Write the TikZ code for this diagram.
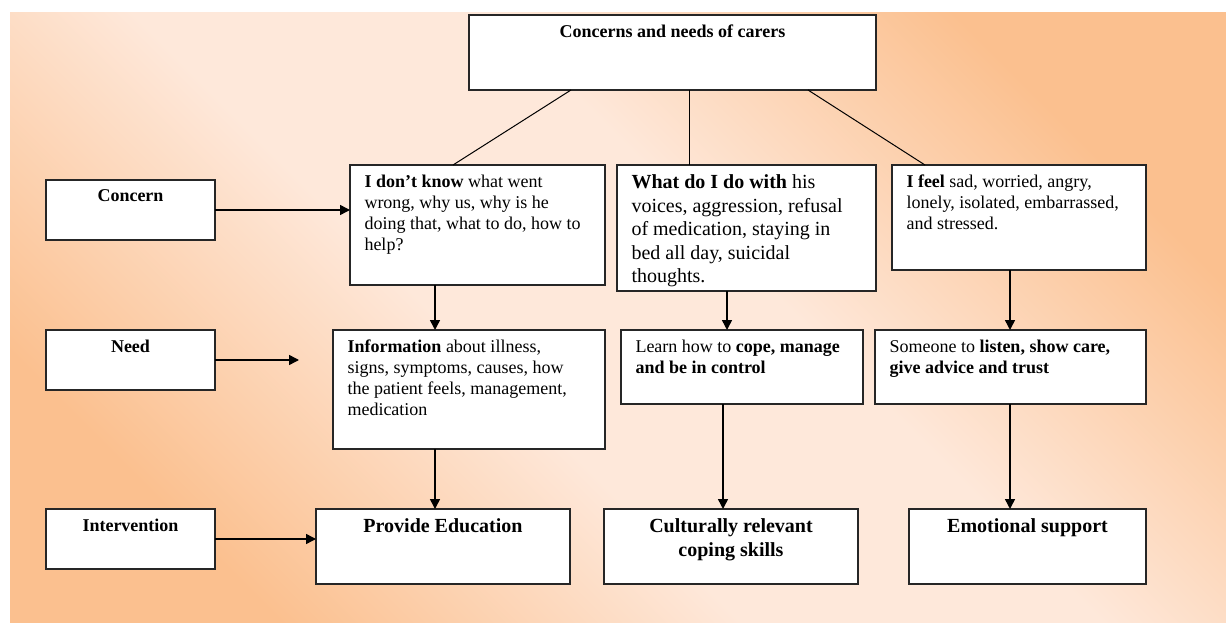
\documentclass[tikz,border=0pt]{standalone}
\usepackage{fontspec}
\setmainfont{Liberation Serif}
\usetikzlibrary{arrows.meta,positioning,calc}

\definecolor{peachdark}{HTML}{FBC08F}
\definecolor{peachlight}{HTML}{FEE8DA}
\pgfdeclareverticalshading{peachband}{100bp}{color(0bp)=(peachdark); color(25bp)=(peachdark); color(43bp)=(peachlight); color(57bp)=(peachlight); color(75bp)=(peachdark); color(100bp)=(peachdark)}

% text block of a box: width, height, content (top aligned)
\newcommand{\boxtxt}[3]{\parbox[c][#2pt][t]{#1pt}{#3}}

\begin{document}
\begin{tikzpicture}[x=1pt,y=-1pt,>={Triangle[length=10pt,width=10pt]},
    every node/.append style={font=\fontsize{18}{21}\selectfont},
    int/.style={draw=black!85, line width=1.2pt, fill=white, anchor=north west, inner xsep=14.5pt, inner ysep=10pt, outer sep=0pt},
    big/.style={font=\fontsize{20}{23.5}\selectfont},
    link/.style={line width=1pt},
    flow/.style={->, line width=1.5pt}]
    \useasboundingbox (0,0) rectangle (1226,623);
    \shade[shading=peachband, shading angle=-45] (10,13) rectangle (1226,623);

    % top
    \node [int] (top) at (469,15) {\boxtxt{378}{55}{\centering\bfseries Concerns and needs of carers}};

    % row labels
    \node [int] (concern) at (46,180) {\boxtxt{140}{40}{\centering\bfseries Concern}};
    \node [int] (need) at (46,330) {\boxtxt{140}{40}{\centering\bfseries Need}};
    \node [int] (interv) at (46,509) {\boxtxt{140}{40}{\centering\bfseries Intervention}};

    % concerns
    \node [int] (know) at (350,165) {\boxtxt{226}{100}{\raggedright\textbf{I don't know} what went\\ wrong, why us, why is he\\ doing that, what to do, how to\\ help?}};
    \node [int, big] (what) at (617,165) {\boxtxt{230}{106}{\raggedright\textbf{What do I do with} his\\ voices, aggression, refusal\\ of medication, staying in\\ bed all day, suicidal\\ thoughts.}};
    \node [int] (feel) at (892,165) {\boxtxt{225}{85}{\raggedright\textbf{I feel} sad, worried, angry,\\ lonely, isolated, embarrassed,\\ and stressed.}};

    % needs
    \node [int] (info) at (333,330) {\boxtxt{243}{99}{\raggedright\textbf{Information} about illness,\\ signs, symptoms, causes, how\\ the patient feels, management,\\ medication}};
    \node [int] (learn) at (621,330) {\boxtxt{213}{54}{\raggedright Learn how to \textbf{cope, manage}\\ \textbf{and be in control}}};
    \node [int] (someone) at (875,330) {\boxtxt{242}{54}{\raggedright Someone to \textbf{listen, show care,}\\ \textbf{give advice and trust}}};

    % interventions
    \node [int, big] (provide) at (316,509) {\boxtxt{225}{55}{\centering\bfseries Provide Education}};
    \node [int, big] (cultural) at (604,509) {\boxtxt{225}{55}{\centering\bfseries Culturally relevant\\ coping skills}};
    \node [int, big] (emotion) at (909,509) {\boxtxt{208}{55}{\centering\bfseries Emotional support}};

    % branches from the top box
    \coordinate (tm) at ([xshift=220pt]top.south west);
    \draw[link] ([xshift=102pt]top.south west) -- ([xshift=103pt]know.north west);
    \draw[link] (tm) -- (tm |- what.north);
    \draw[link] ([xshift=339pt]top.south west) -- ([xshift=33pt]feel.north west);

    % downward arrows
    \coordinate (kb) at ([xshift=85pt]know.south west);
    \coordinate (ib) at (kb |- info.south);
    \coordinate (wb) at ([xshift=110pt]what.south west);
    \coordinate (lb) at ([xshift=102pt]learn.south west);
    \coordinate (fb) at ([xshift=118pt]feel.south west);
    \coordinate (sb) at (fb |- someone.south);
    \draw[flow] (kb) -- (kb |- info.north);
    \draw[flow] (ib) -- (ib |- provide.north);
    \draw[flow] (wb) -- (wb |- learn.north);
    \draw[flow] (lb) -- (lb |- cultural.north);
    \draw[flow] (fb) -- (fb |- someone.north);
    \draw[flow] (sb) -- (sb |- emotion.north);

    % arrows from the row labels
    \coordinate (needend) at ([xshift=84pt]need.east);
    \draw[flow] (concern.east) -- (concern.east -| know.west);
    \draw[flow] (need.east) -- (needend);
    \draw[flow] (interv.east) -- (interv.east -| provide.west);
\end{tikzpicture}
\end{document}
